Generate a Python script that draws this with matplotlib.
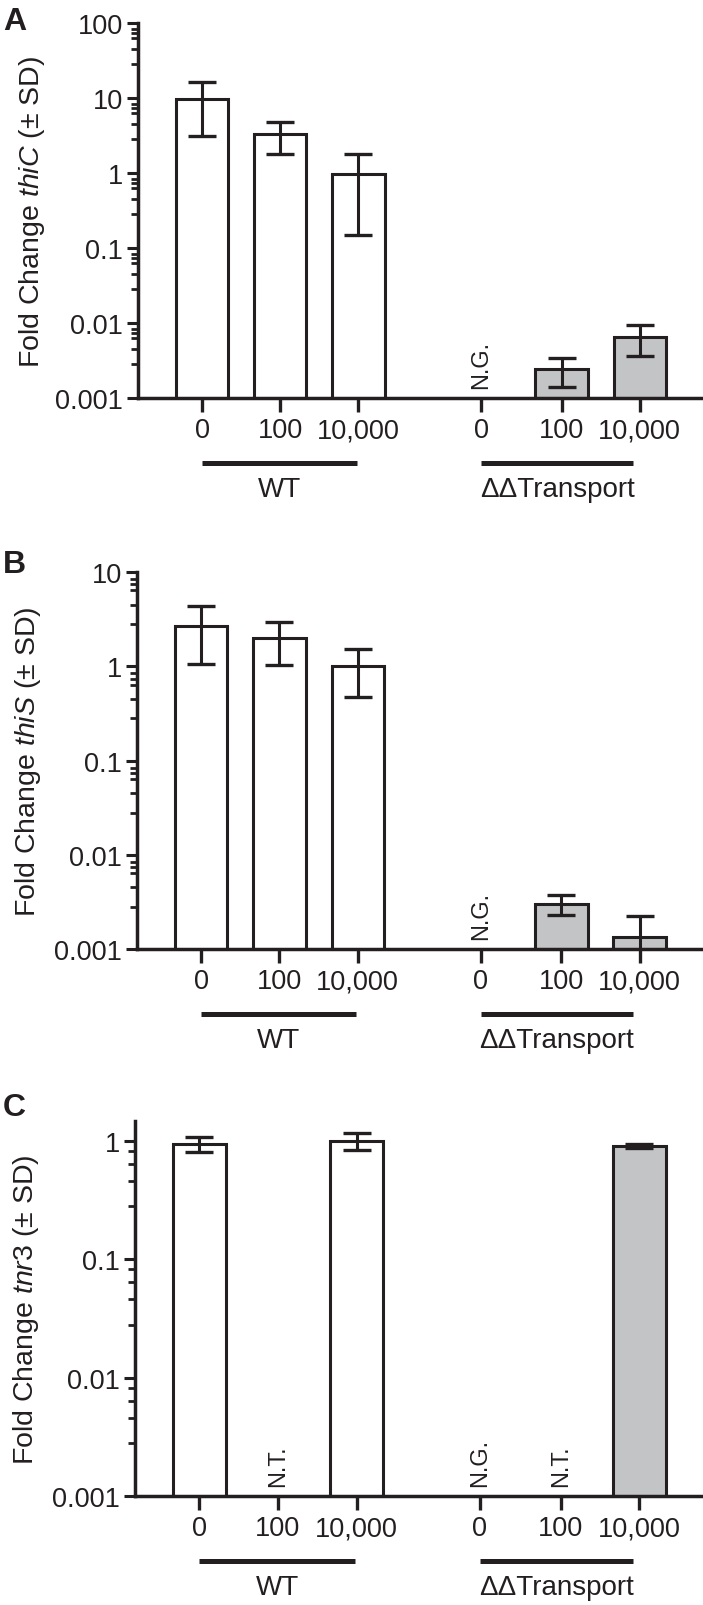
import numpy as np
import matplotlib
matplotlib.use("Agg")
import matplotlib.pyplot as plt
from matplotlib.ticker import FixedLocator, NullFormatter
import matplotlib.transforms as mtransforms

plt.rcParams['font.family'] = ['Liberation Sans', 'DejaVu Sans']
plt.rcParams['mathtext.fontset'] = 'custom'
plt.rcParams['mathtext.rm'] = 'Liberation Sans'
plt.rcParams['mathtext.it'] = 'Liberation Sans:italic'

INK = '#231f20'
GREY = '#c3c4c6'

# x categories for each strain
conc_labels = ['0', '100', '10,000', '0', '100', '10,000']
groups = ['WT', 'ΔΔTransport']

# panel A: thiC
thiC_wt = [9.6, 3.3, 0.98]
thiC_wt_sd = [6.5, 1.5, 0.83]
thiC_dd = [np.nan, 0.0024, 0.0065]
thiC_dd_sd = [np.nan, 0.001, 0.0029]
thiC_notes = ['', '', '', 'N.G.', '', '']

# panel B: thiS
thiS_wt = [2.7, 2.0, 1.0]
thiS_wt_sd = [1.65, 0.98, 0.53]
thiS_dd = [np.nan, 0.003, 0.00133]
thiS_dd_sd = [np.nan, 0.0007, 0.00089]
thiS_notes = ['', '', '', 'N.G.', '', '']

# panel C: tnr3
tnr3_wt = [0.94, np.nan, 1.0]
tnr3_wt_sd = [0.13, np.nan, 0.17]
tnr3_dd = [np.nan, np.nan, 0.9]
tnr3_dd_sd = [np.nan, np.nan, 0.035]
tnr3_notes = ['', 'N.T.', '', 'N.G.', 'N.T.', '']

xpos = np.array([0, 1, 2, 3.57, 4.6, 5.6])

W, H = 703, 1606
fig = plt.figure(figsize=(W / 100, H / 100), dpi=100)


def panel(rect, wt, wt_sd, dd, dd_sd, notes, ytop, yticks, ylabs, subs, gene, letter, letter_y, lab_x):
    left, top, bottom = rect
    ax = fig.add_axes([left / W, 1 - bottom / H, (W - left) / W + 0.01, (bottom - top) / H])
    ax.set_yscale('log')
    ax.set_ylim(0.001, ytop)
    ax.set_xlim(-0.82, 6.5)

    vals = np.array(wt + dd, dtype=float)
    sds = np.array(wt_sd + dd_sd, dtype=float)
    colors = ['white'] * 3 + [GREY] * 3
    ok = ~np.isnan(vals)
    ax.bar(xpos[ok], vals[ok], width=0.67, color=np.array(colors)[ok],
           edgecolor=INK, linewidth=2.2, zorder=2)
    ax.errorbar(xpos[ok], vals[ok], yerr=sds[ok], fmt='none', ecolor=INK,
                elinewidth=2.2, capsize=10, capthick=2.4, zorder=3)

    for x, n in zip(xpos, notes):
        if n:
            ax.annotate(n, xy=(x, 0.001), xytext=(0, 7), textcoords='offset points',
                        rotation=90, ha='center', va='bottom', fontsize=17, color=INK)

    for s in ['top', 'right']:
        ax.spines[s].set_visible(False)
    for s in ['left', 'bottom']:
        ax.spines[s].set_linewidth(2.5)
        ax.spines[s].set_color(INK)

    ax.yaxis.set_major_locator(FixedLocator(yticks))
    ax.set_yticklabels(ylabs)
    minors = []
    for d in yticks:
        for s in subs:
            v = d * s
            if v < ytop:
                minors.append(v)
    ax.yaxis.set_minor_locator(FixedLocator(minors))
    ax.yaxis.set_minor_formatter(NullFormatter())
    ax.tick_params(axis='y', which='major', length=8, width=2.2, pad=3,
                   labelsize=19.5, colors=INK)
    ax.tick_params(axis='y', which='minor', length=5, width=2.0, colors=INK)

    ax.set_xticks(xpos)
    ax.set_xticklabels(conc_labels)
    ax.tick_params(axis='x', which='both', length=10, width=2.4, pad=4,
                   labelsize=19.5, colors=INK)
    ax.tick_params(axis='x', which='minor', bottom=False)

    ph = bottom - top
    trans = mtransforms.blended_transform_factory(ax.transData, ax.transAxes)
    ax.plot([xpos[0], 1.98], [-65 / ph] * 2, color=INK, lw=3.6, transform=trans,
            clip_on=False, solid_capstyle='butt')
    ax.plot([xpos[3], 5.52], [-65 / ph] * 2, color=INK, lw=3.6, transform=trans,
            clip_on=False, solid_capstyle='butt')
    ax.text(np.mean([xpos[0], 1.98]), -91 / ph, groups[0], transform=trans,
            ha='center', va='center', fontsize=20, color=INK)
    ax.text(np.mean([xpos[3], 5.52]), -91 / ph, groups[1], transform=trans,
            ha='center', va='center', fontsize=20, color=INK)

    fig.text(lab_x / W, 1 - (top + bottom) / 2 / H,
             'Fold Change $\\mathit{' + gene + '}$ (± SD)',
             rotation=90, ha='center', va='center', fontsize=20.5, color=INK)
    fig.text(3 / W, 1 - letter_y / H, letter, fontsize=23, fontweight='bold',
             va='baseline', ha='left', color=INK)
    return ax


panel((138, 24, 399), thiC_wt, thiC_wt_sd, thiC_dd, thiC_dd_sd, thiC_notes, 100,
      [0.001, 0.01, 0.1, 1, 10, 100], ['0.001', '0.01', '0.1', '1', '10', '100'],
      [2.8, 4.5, 6.4, 7.4, 8.4], 'thiC', 'A', 30, 32)
panel((137, 573, 950), thiS_wt, thiS_wt_sd, thiS_dd, thiS_dd_sd, thiS_notes, 10,
      [0.001, 0.01, 0.1, 1, 10], ['0.001', '0.01', '0.1', '1', '10'],
      [2.8, 4.5, 6.4, 7.4, 8.4], 'thiS', 'B', 573, 28)
panel((135, 1122, 1497), tnr3_wt, tnr3_wt_sd, tnr3_dd, tnr3_dd_sd, tnr3_notes, 1.47,
      [0.001, 0.01, 0.1, 1], ['0.001', '0.01', '0.1', '1'],
      [2.8, 4.6, 6.4, 8.2], 'tnr3', 'C', 1116, 26)

fig.savefig('out.png', dpi=100)
